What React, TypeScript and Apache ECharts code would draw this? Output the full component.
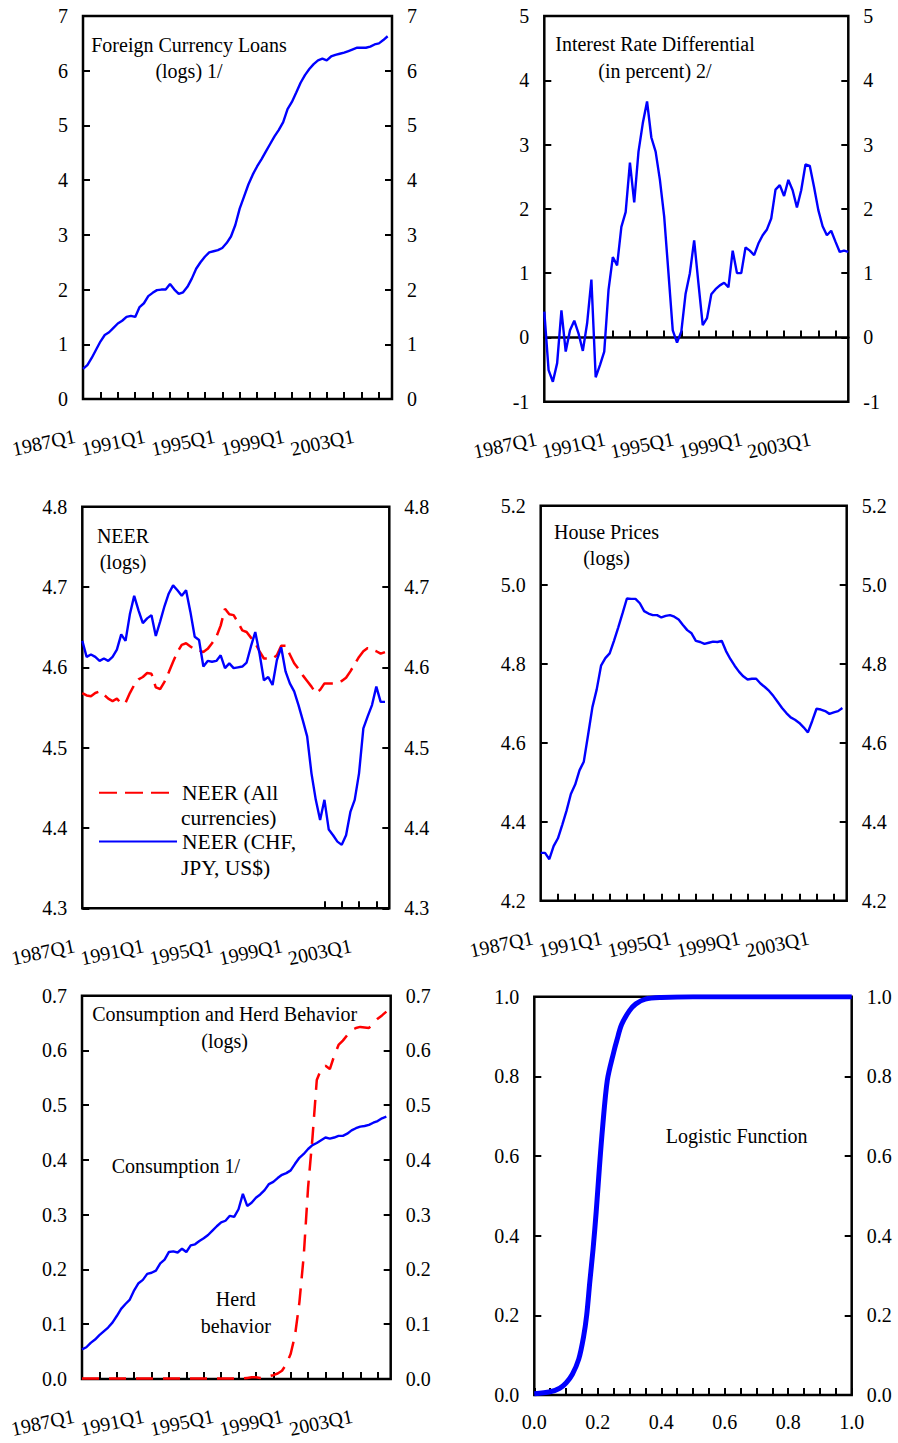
import React, { useEffect, useRef } from "react";
import * as echarts from "echarts";

// ---------- categories ----------
const startYear = 1987;
const endYear = 2004;
const quarters: string[] = [];
for (let y = startYear; y <= endYear; y++) {
  for (let q = 1; q <= 4; q++) quarters.push(`${y}Q${q}`);
}

// ---------- series values ----------
const foreignLoans = [
  0.55, 0.62, 0.75, 0.9, 1.05, 1.17, 1.22, 1.3, 1.38, 1.43,
  1.5, 1.52, 1.5, 1.68, 1.75, 1.88, 1.94, 1.99, 2.0, 2.0,
  2.1, 2.0, 1.92, 1.95, 2.05, 2.2, 2.38, 2.5, 2.6, 2.68,
  2.7, 2.72, 2.76, 2.85, 2.97, 3.18, 3.48, 3.7, 3.92, 4.1,
  4.25, 4.38, 4.52, 4.66, 4.8, 4.92, 5.06, 5.3, 5.43, 5.6,
  5.78, 5.92, 6.03, 6.12, 6.19, 6.22, 6.19, 6.26, 6.29, 6.31,
  6.33, 6.36, 6.39, 6.42, 6.42, 6.42, 6.44, 6.48, 6.5, 6.56,
  6.63,
];

const interestDiff = [
  0.4, -0.51, -0.69, -0.4, 0.42, -0.22, 0.11, 0.26, 0.06, -0.21,
  0.22, 0.9, -0.62, -0.43, -0.22, 0.74, 1.25, 1.12, 1.72, 1.95,
  2.72, 2.1, 2.89, 3.33, 3.67, 3.11, 2.89, 2.45, 1.88, 1.0,
  0.11, -0.08, 0.09, 0.68, 1.0, 1.51, 0.84, 0.19, 0.3, 0.67,
  0.75, 0.81, 0.85, 0.78, 1.35, 1.0, 1.0, 1.4, 1.35, 1.28,
  1.46, 1.59, 1.68, 1.85, 2.3, 2.37, 2.2, 2.45, 2.29, 2.02,
  2.29, 2.69, 2.67, 2.34, 1.98, 1.73, 1.59, 1.66, 1.49, 1.33,
  1.35, 1.33,
];

const neerAll = [
  4.568, 4.565, 4.564, 4.568, 4.57, 4.566, 4.561, 4.558, 4.561, 4.555,
  4.556, 4.568, 4.578, 4.585, 4.588, 4.593, 4.592, 4.575, 4.573, 4.582,
  4.594, 4.607, 4.619, 4.628, 4.63, 4.626, 4.622, 4.621, 4.619, 4.623,
  4.63, 4.638, 4.652, 4.673, 4.666, 4.665, 4.656, 4.646, 4.644, 4.637,
  4.63, 4.62, 4.611, 4.611, 4.611, 4.615, 4.627, 4.627, 4.616, 4.605,
  4.598, 4.59, 4.583, 4.576, 4.568, 4.572, 4.58, 4.58, 4.58, 4.581,
  4.583, 4.587, 4.595, 4.604, 4.613, 4.62, 4.624, 4.622, 4.62, 4.617,
  4.619,
];

const neerCHF = [
  4.633, 4.613, 4.616, 4.613, 4.608, 4.611, 4.608, 4.613, 4.622, 4.641,
  4.633, 4.666, 4.689, 4.671, 4.655, 4.661, 4.665, 4.639, 4.657, 4.676,
  4.692, 4.702, 4.696, 4.689, 4.696, 4.669, 4.638, 4.634, 4.601, 4.608,
  4.607, 4.608, 4.615, 4.599, 4.605, 4.599, 4.6, 4.601, 4.606, 4.626,
  4.644, 4.617, 4.584, 4.588, 4.578, 4.609, 4.625, 4.595, 4.58, 4.57,
  4.553, 4.534, 4.514, 4.468, 4.435, 4.41, 4.435, 4.398, 4.391, 4.383,
  4.379, 4.391, 4.42, 4.435, 4.468, 4.524, 4.539, 4.553, 4.576, 4.557,
  4.557,
];

const housePrices = [
  4.321, 4.321, 4.305, 4.338, 4.358, 4.392, 4.428, 4.47, 4.494, 4.53,
  4.552, 4.62, 4.69, 4.735, 4.795, 4.814, 4.826, 4.858, 4.892, 4.928,
  4.965, 4.964, 4.964, 4.953, 4.933, 4.927, 4.923, 4.923, 4.917, 4.921,
  4.923, 4.919, 4.912, 4.898, 4.885, 4.877, 4.858, 4.855, 4.85, 4.853,
  4.856, 4.855, 4.858, 4.832, 4.812, 4.795, 4.78, 4.768, 4.76, 4.762,
  4.762, 4.75, 4.741, 4.731, 4.718, 4.703, 4.688, 4.675, 4.664, 4.658,
  4.65, 4.639, 4.626, 4.655, 4.686, 4.684, 4.68, 4.673, 4.677, 4.68,
  4.688,
];

const consumption = [
  0.054, 0.058, 0.066, 0.072, 0.08, 0.087, 0.094, 0.103, 0.115, 0.128,
  0.137, 0.145, 0.162, 0.175, 0.181, 0.192, 0.194, 0.198, 0.211, 0.218,
  0.232, 0.233, 0.231, 0.238, 0.232, 0.244, 0.246, 0.252, 0.257, 0.263,
  0.271, 0.279, 0.286, 0.289, 0.298, 0.296, 0.31, 0.338, 0.316, 0.322,
  0.331, 0.337, 0.345, 0.356, 0.36, 0.367, 0.373, 0.376, 0.381, 0.393,
  0.404, 0.411, 0.42, 0.427, 0.431, 0.436, 0.441, 0.439, 0.441, 0.444,
  0.444, 0.448, 0.454, 0.458, 0.461, 0.462, 0.464, 0.468, 0.471, 0.476,
  0.479,
];

const herd = [
  0.001, 0.001, 0.001, 0.001, 0.001, 0.001, 0.001, 0.001, 0.001, 0.001,
  0.001, 0.001, 0.001, 0.001, 0.001, 0.001, 0.001, 0.001, 0.001, 0.001,
  0.001, 0.001, 0.001, 0.001, 0.001, 0.001, 0.001, 0.001, 0.001, 0.001,
  0.001, 0.001, 0.001, 0.001, 0.001, 0.001, 0.001, 0.001, 0.002, 0.003,
  0.003, 0.002, 0.003, 0.005, 0.007, 0.01, 0.015, 0.027, 0.046, 0.08,
  0.14, 0.225, 0.35, 0.44, 0.546, 0.566, 0.572, 0.566, 0.59, 0.61,
  0.618, 0.628, 0.637, 0.641, 0.643, 0.642, 0.641, 0.65, 0.658, 0.664,
  0.671,
];

const logisticX = [
  0, 0.05, 0.08, 0.1, 0.12, 0.14, 0.155, 0.165, 0.175, 0.185,
  0.195, 0.205, 0.215, 0.23, 0.25, 0.26, 0.275, 0.3, 0.32, 0.35,
  0.4, 0.5, 0.6, 0.7, 0.8, 0.9, 1.0,
];
const logisticY = [
  0.003, 0.008, 0.017, 0.03, 0.052, 0.09, 0.145, 0.2, 0.285, 0.365,
  0.46, 0.57, 0.67, 0.79, 0.86, 0.89, 0.93, 0.965, 0.982, 0.994,
  0.998, 1, 1, 1, 1, 1, 1,
];

// ---------- styling ----------
const FONT = '"Liberation Serif", "Times New Roman", Times, serif';
const BLACK = "#000000";
const BLUE = "#0000ff";
const RED = "#ff0000";
const labelStyle = { color: BLACK, fontFamily: FONT, fontSize: 20 };

const grids = [
  { left: 83, top: 16, width: 309, height: 383 },
  { left: 544.3, top: 16, width: 304, height: 385.7 },
  { left: 82.3, top: 506.7, width: 307, height: 401.6 },
  { left: 540.7, top: 505.7, width: 306, height: 395 },
  { left: 82, top: 995.7, width: 308.7, height: 383.3 },
  { left: 534.3, top: 996.7, width: 317.4, height: 398.3 },
];

function xCat(gridIndex: number, tickShow: (i: number) => boolean, showLabels: boolean, extra: any = {}) {
  return {
    type: "category",
    gridIndex,
    position: "bottom",
    data: quarters,
    boundaryGap: false,
    axisLine: { show: false, onZero: false },
    axisTick: {
      show: true,
      inside: true,
      length: 7,
      interval: (i: number) => tickShow(i),
      lineStyle: { color: BLACK, width: 2 },
    },
    axisLabel: {
      show: showLabels,
      interval: (i: number) => i % 16 === 0,
      rotate: 12,
      margin: 35,
      padding: [0, 8, 0, 0],
      ...labelStyle,
    },
    splitLine: { show: false },
    ...extra,
  };
}

function yVal(gridIndex: number, position: string, min: number, max: number, interval: number, digits: number) {
  return {
    type: "value",
    gridIndex,
    position,
    min,
    max,
    interval,
    axisLine: { show: false, onZero: false },
    axisTick: { show: true, inside: true, length: 7, lineStyle: { color: BLACK, width: 2 } },
    axisLabel: {
      show: true,
      margin: 15,
      formatter: (v: number) => v.toFixed(digits),
      ...labelStyle,
    },
    splitLine: { show: false },
  };
}

function note(text: string, x: number, y: number, lineHeight = 26, size = 20, align = "center") {
  return {
    type: "text",
    x,
    y,
    silent: true,
    z: 100,
    style: {
      text,
      fill: BLACK,
      fontFamily: FONT,
      fontSize: size,
      lineHeight,
      align,
      verticalAlign: "middle",
      textAlign: align,
      textVerticalAlign: "middle",
    },
  };
}

function neerLegend(name: string, label: string, top: number) {
  return {
    data: [name],
    left: 98,
    top,
    padding: 0,
    itemWidth: 78,
    itemHeight: 14,
    selectedMode: false,
    formatter: () => label,
    itemStyle: { color: "rgba(0,0,0,0)", borderWidth: 0, opacity: 0 },
    textStyle: { color: BLACK, fontFamily: FONT, fontSize: 21.5, lineHeight: 20 },
  };
}

function buildOption(): any {
  const lineBase = { type: "line", symbol: "none", showSymbol: false, silent: true };
  return {
    animation: false,
    backgroundColor: "#ffffff",
    textStyle: { fontFamily: FONT },
    grid: grids.map((g) => ({
      ...g,
      show: true,
      borderColor: BLACK,
      borderWidth: 2.5,
      backgroundColor: "transparent",
      containLabel: false,
      outerBoundsMode: "none",
    })),
    xAxis: [
      xCat(0, (i) => i % 4 === 0 && i > 0, true),
      xCat(1, (i) => i % 4 === 0 && i >= 16, false, {
        axisLine: { show: true, onZero: true, lineStyle: { color: BLACK, width: 2.5 } },
      }),
      xCat(1, () => false, true, { axisTick: { show: false } }),
      xCat(2, (i) => i >= 56 && i % 4 === 0, true),
      xCat(3, (i) => i % 4 === 0 && i > 0, true),
      xCat(4, (i) => i % 4 === 0 && i > 0, true),
      {
        type: "value",
        gridIndex: 5,
        position: "bottom",
        min: 0,
        max: 1,
        interval: 0.2,
        axisLine: { show: false, onZero: false },
        axisTick: { show: true, inside: true, length: 7, lineStyle: { color: BLACK, width: 2 } },
        minorTick: { show: true, splitNumber: 4, length: 7, lineStyle: { color: BLACK, width: 2 } },
        axisLabel: { show: true, margin: 17, formatter: (v: number) => v.toFixed(1), ...labelStyle },
        splitLine: { show: false },
        minorSplitLine: { show: false },
      },
    ],
    yAxis: [
      yVal(0, "left", 0, 7, 1, 0),
      yVal(0, "right", 0, 7, 1, 0),
      yVal(1, "left", -1, 5, 1, 0),
      yVal(1, "right", -1, 5, 1, 0),
      yVal(2, "left", 4.3, 4.8, 0.1, 1),
      yVal(2, "right", 4.3, 4.8, 0.1, 1),
      yVal(3, "left", 4.2, 5.2, 0.2, 1),
      yVal(3, "right", 4.2, 5.2, 0.2, 1),
      yVal(4, "left", 0, 0.7, 0.1, 1),
      yVal(4, "right", 0, 0.7, 0.1, 1),
      yVal(5, "left", 0, 1, 0.2, 1),
      yVal(5, "right", 0, 1, 0.2, 1),
    ],
    legend: [
      neerLegend("NEER (All currencies)", "NEER (All", 781.7),
      neerLegend("NEER (CHF, JPY, US$)", "NEER (CHF,", 830.5),
    ],
    series: [
      {
        ...lineBase,
        name: "Foreign Currency Loans",
        xAxisIndex: 0,
        yAxisIndex: 0,
        data: foreignLoans,
        lineStyle: { color: BLUE, width: 2.4 },
        itemStyle: { color: BLUE },
      },
      {
        ...lineBase,
        name: "Interest Rate Differential",
        xAxisIndex: 1,
        yAxisIndex: 2,
        data: interestDiff,
        lineStyle: { color: BLUE, width: 2.4 },
        itemStyle: { color: BLUE },
      },
      {
        ...lineBase,
        name: "NEER (All currencies)",
        xAxisIndex: 3,
        yAxisIndex: 4,
        data: neerAll,
        lineStyle: { color: RED, width: 2.5, type: [18, 8] },
        itemStyle: { color: RED },
      },
      {
        ...lineBase,
        name: "NEER (CHF, JPY, US$)",
        xAxisIndex: 3,
        yAxisIndex: 4,
        data: neerCHF,
        lineStyle: { color: BLUE, width: 2.4 },
        itemStyle: { color: BLUE },
      },
      {
        ...lineBase,
        name: "House Prices",
        xAxisIndex: 4,
        yAxisIndex: 6,
        data: housePrices,
        lineStyle: { color: BLUE, width: 2.4 },
        itemStyle: { color: BLUE },
      },
      {
        ...lineBase,
        name: "Consumption 1/",
        xAxisIndex: 5,
        yAxisIndex: 8,
        data: consumption,
        lineStyle: { color: BLUE, width: 2.4 },
        itemStyle: { color: BLUE },
      },
      {
        ...lineBase,
        name: "Herd behavior",
        xAxisIndex: 5,
        yAxisIndex: 8,
        data: herd,
        lineStyle: { color: RED, width: 2.5, type: [17, 10] },
        itemStyle: { color: RED },
      },
      {
        ...lineBase,
        name: "Logistic Function",
        xAxisIndex: 6,
        yAxisIndex: 10,
        data: logisticX.map((x, i) => [x, logisticY[i]]),
        smooth: 0.3,
        lineStyle: { color: BLUE, width: 5 },
        itemStyle: { color: BLUE },
      },
    ],
    graphic: [
      note("Foreign Currency Loans\n(logs) 1/", 189, 58),
      note("Interest Rate Differential\n(in percent) 2/", 655, 57.5, 27),
      note("NEER\n(logs)", 123, 548.7),
      note("House Prices\n(logs)", 606.5, 545.3),
      note("Consumption and Herd Behavior\n(logs)", 224.7, 1027.5, 26.4),
      note("Consumption 1/", 175.8, 1165.7),
      note("Herd\nbehavior", 235.8, 1312.5, 26.4),
      note("Logistic Function", 736.7, 1136),
      note("currencies)", 181, 817.5, 20, 21.5, "left"),
      note("JPY, US$)", 181, 868, 20, 21.5, "left"),
    ],
  };
}

export default function App() {
  const ref = useRef<HTMLDivElement>(null);
  useEffect(() => {
    if (!ref.current) return;
    const chart = echarts.init(ref.current, null, { renderer: "svg" });
    chart.setOption(buildOption());
    return () => {
      chart.dispose();
    };
  }, []);
  return (
    <div
      ref={ref}
      style={{ position: "absolute", left: 0, top: 0, width: 898, height: 1443, background: "#ffffff" }}
    />
  );
}
